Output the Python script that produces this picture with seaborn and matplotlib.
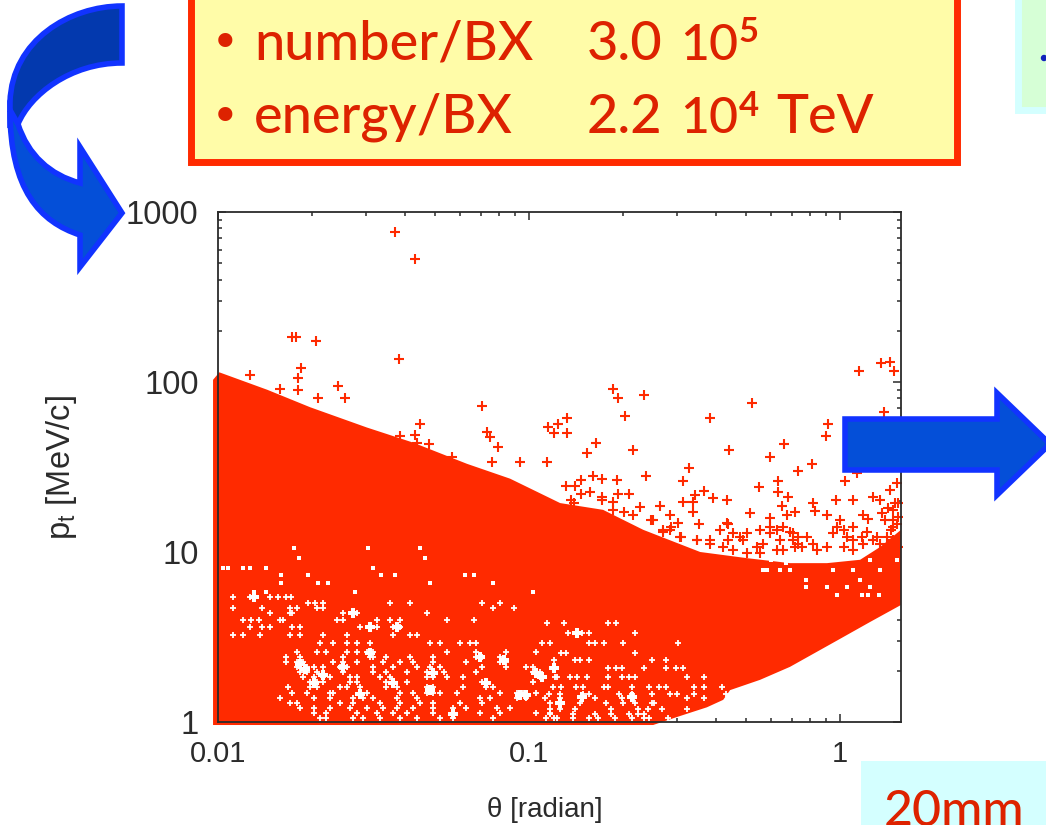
import matplotlib
matplotlib.use('Agg')
import matplotlib.pyplot as plt
import seaborn as sns
from matplotlib.patches import PathPatch, Rectangle, Polygon, Circle
from matplotlib.path import Path
from matplotlib.ticker import LogLocator, NullFormatter

# outline of the solid red band
upper_theta = [0.00964, 0.0101, 0.0144, 0.0198, 0.0301, 0.0424, 0.0632, 0.0869, 0.1259, 0.173, 0.233, 0.355, 0.502, 0.69, 0.908, 1.16, 1.345, 1.57]
upper_pt = [103, 114, 90, 71, 54, 44, 33, 27, 19.4, 17.7, 13.5, 10, 9.2, 8.6, 8.6, 9, 10.7, 13.5]
lower_theta = [1.57, 1.247, 0.986, 0.69, 0.553, 0.443, 0.421, 0.373, 0.299, 0.2506, 0.00964]
lower_pt = [4.88, 3.87, 3.04, 2.11, 1.77, 1.54, 1.35, 1.22, 1.07, 0.96, 0.96]

# single + points above the band
plus_theta = [0.0371, 0.043, 0.0173, 0.0178, 0.0207, 0.0382, 0.0185, 0.0181, 0.0181, 0.0127, 0.0158, 0.0243, 0.0256, 0.0209,
              0.0706, 0.0447, 0.043, 0.0436, 0.0385, 0.0477, 0.0733, 0.075, 0.0794, 0.076, 0.0935, 0.1143, 0.115, 0.1203, 0.124, 0.0565,
              0.1324, 0.1324, 0.186, 0.193, 0.234, 0.204, 0.164, 0.154, 0.216, 0.521, 0.382, 0.44, 0.661, 0.596, 0.813, 0.733,
              1.15, 1.355, 1.449, 1.49, 1.384, 0.914, 0.902, 1.135, 1.038, 0.327, 0.313, 0.238, 0.192, 0.16, 0.171, 0.147, 0.131, 0.141,
              0.147, 0.157, 0.193, 0.21, 0.171, 0.366, 0.342, 0.391, 0.313, 0.337, 0.337, 0.433, 0.55, 0.632, 0.632, 0.681, 0.971, 1.1, 1.276,
              0.264, 0.2275, 0.186, 0.352, 0.514, 0.651, 0.819, 0.716, 0.676, 0.83, 0.908, 0.596, 0.284, 0.301, 0.433, 1.0, 1.186, 1.23, 1.365,
              1.449, 1.524, 1.503, 1.426, 1.345,
              0.411, 0.437, 0.454, 0.477, 0.501, 0.489, 0.437, 0.553, 0.595, 0.625, 0.657, 0.567, 0.708, 0.734, 0.716, 0.952, 1.026, 1.104, 1.175, 1.279,
              0.906, 0.841, 1.104, 0.625, 0.54, 0.382, 0.346, 0.306, 0.27, 0.251, 0.284, 0.421, 1.026, 1.189, 1.412, 1.484, 1.412, 1.54,
              # crowded ones along the edge of the band
              0.1365, 0.1399, 0.171, 0.186, 0.2025, 0.2155, 0.2465, 0.269, 0.2865, 0.308, 0.3455, 0.382,
              0.595, 0.641, 0.689, 0.708, 0.752, 0.818, 0.975, 1.049, 1.104, 1.22, 1.31, 1.39, 1.484, 1.455, 1.52, 1.34, 1.484,
              1.54, 1.484, 1.54, 0.785, 0.734, 0.657, 0.553, 0.454, 0.501]
plus_pt = [762, 529, 184, 184, 174, 137, 121, 106, 90, 110, 91, 95, 80.5, 80.5,
           72, 57, 49, 44, 48, 43, 51, 47.5, 41.5, 34, 34, 34, 54, 50, 57, 36,
           61, 50, 91, 80.5, 84, 63, 44, 38, 40, 75, 61, 40, 43, 36, 33, 30,
           116, 129, 131, 116, 67, 57, 48, 29, 26, 31, 26, 28, 26.5, 28, 27, 26.5, 24.5, 24.5,
           22, 22.5, 22, 22, 21, 22.9, 21.6, 20.8, 19.7, 19.7, 17.2, 20.2, 24, 26, 22.5, 21, 20.2, 20.2, 21,
           18.6, 18.4, 19.7, 14.6, 17, 18.6, 19.3, 17.2, 16.5, 17.4, 16.5, 15.8, 16.5, 14.8, 14.8, 15.4, 16.5, 15.6, 17,
           23.2, 25.5, 19.3, 18.2, 20.2,
           13.5, 14.7, 12.9, 12.3, 12.9, 11.8, 11.8, 13.5, 14.1, 13.5, 14.1, 11.2, 12.9, 12.3, 10.7, 12.9, 13.5, 14.1, 12.3, 11.8,
           10.7, 10.3, 10.3, 10.3, 10.7, 11.8, 11.8, 12.3, 13.5, 15.4, 13.5, 10.7, 10.7, 11.2, 12.3, 14.1, 10.7, 10.7,
           20.2, 19.3, 20.2, 17.7, 17.3, 16.5, 15.4, 13.2, 14.1, 12.3, 11.8, 11.2,
           12.9, 11.8, 13.2, 11.8, 10.7, 11.2, 14.1, 12.3, 11.8, 13.2, 12.3, 15.4, 15.4, 13.5, 14.7, 11.2, 11.8,
           19.3, 17.7, 16, 12.3, 11.2, 10.3, 9.8, 10.3, 9.8]

# white gaps left between the points in the lower part, one list per row
hole_rows = [5.4, 5.0, 4.7, 4.4, 3.98, 3.6, 3.25, 2.93, 2.58, 2.41, 2.25, 2.1, 1.97, 1.84, 1.72, 1.61, 1.48, 1.38, 1.29, 1.21, 1.13, 1.06,
             3.8, 3.32, 2.9, 2.54, 2.32, 2.07, 1.85, 1.61, 1.47, 1.38, 1.29, 1.2, 1.12, 1.05]
hole_thetas = [
    [0.0112, 0.0127, 0.0131, 0.0147, 0.0156, 0.0166, 0.0172],
    [0.0195, 0.0205, 0.0218, 0.0357, 0.0415, 0.0708, 0.0807],
    [0.0112, 0.0138, 0.017, 0.0179, 0.0208, 0.0218, 0.0768, 0.0897],
    [0.0147, 0.017, 0.0173, 0.0253, 0.0272, 0.0279, 0.047],
    [0.012, 0.0128, 0.0135, 0.0158, 0.0162, 0.0241, 0.0253, 0.0324, 0.0357, 0.0385, 0.0543, 0.0663],
    [0.0127, 0.0139, 0.0147, 0.0173, 0.0184, 0.0286, 0.0308, 0.0324, 0.0366, 0.0385],
    [0.0112, 0.012, 0.0136, 0.017, 0.0184, 0.0218, 0.026, 0.0366, 0.0415, 0.0436],
    [0.0213, 0.0234, 0.026, 0.0279, 0.0308, 0.0481, 0.0518, 0.06, 0.0646, 0.0675],
    [0.0179, 0.0208, 0.0223, 0.026, 0.0279, 0.0301, 0.0316, 0.0543, 0.0675, 0.0846, 0.1054],
    [0.0166, 0.0184, 0.0253, 0.0308, 0.0316, 0.0346, 0.0415, 0.0492, 0.0675, 0.0708, 0.0807],
    [0.0166, 0.0179, 0.0188, 0.0234, 0.0253, 0.0279, 0.0339, 0.0385, 0.0425, 0.0492, 0.0629, 0.0807, 0.0846],
    [0.0179, 0.0193, 0.0203, 0.0218, 0.0247, 0.026, 0.0316, 0.0366, 0.0436, 0.0481, 0.0518, 0.0708, 0.0846, 0.098, 0.103],
    [0.0184, 0.0193, 0.0208, 0.0253, 0.0316, 0.0346, 0.0404, 0.047, 0.0492, 0.0531, 0.0675, 0.103, 0.1082],
    [0.0188, 0.0203, 0.0218, 0.0229, 0.0266, 0.0279, 0.0332, 0.0357, 0.047, 0.0492, 0.0543, 0.0615, 0.1082, 0.1226],
    [0.0198, 0.0208, 0.0218, 0.0266, 0.0279, 0.0346, 0.0366, 0.0404, 0.0708, 0.0729, 0.103],
    [0.0168, 0.0198, 0.0208, 0.0247, 0.026, 0.0286, 0.0346, 0.0376, 0.047, 0.0492, 0.0615, 0.0729, 0.0768, 0.1198],
    [0.0173, 0.0193, 0.0229, 0.0234, 0.0286, 0.0301, 0.0385, 0.0425, 0.047, 0.0492, 0.0518, 0.0585, 0.0807, 0.0912, 0.0957, 0.1054],
    [0.0158, 0.0203, 0.0229, 0.0272, 0.0293, 0.0316, 0.0376, 0.0436, 0.0696, 0.0749, 0.0912, 0.098],
    [0.017, 0.0179, 0.0247, 0.0272, 0.0332, 0.0385, 0.0447, 0.0492, 0.06, 0.0708, 0.117],
    [0.0184, 0.0203, 0.0229, 0.0266, 0.0301, 0.0339, 0.0376, 0.0425, 0.0492, 0.0571, 0.0629, 0.0788, 0.0869],
    [0.0203, 0.0223, 0.0279, 0.0324, 0.0366, 0.0404, 0.0492, 0.0571, 0.0696, 0.0807, 0.1054, 0.117],
    [0.0213, 0.0223, 0.0272, 0.0293, 0.0332, 0.0385, 0.0436, 0.0518, 0.0571, 0.0768, 0.1136, 0.1226],
    # right hand part of the gaps
    [0.1139, 0.1292, 0.1799, 0.19],
    [0.1337, 0.1422, 0.1476, 0.156, 0.2196],
    [0.11, 0.1167, 0.1555, 0.1632, 0.1737, 0.2, 0.301],
    [0.1268, 0.1315, 0.2186],
    [0.1202, 0.1407, 0.1457, 0.1555, 0.2477, 0.2765],
    [0.1202, 0.1799, 0.19, 0.1985, 0.2342, 0.2765, 0.2975, 0.3134],
    [0.1085, 0.1216, 0.1358, 0.1422, 0.1535, 0.1799, 0.1985, 0.2094, 0.2186, 0.3225, 0.3663],
    [0.127, 0.142, 0.149, 0.1737, 0.18, 0.214, 0.2436, 0.2614, 0.2765, 0.3395, 0.3663, 0.416],
    [0.116, 0.1257, 0.149, 0.156, 0.195, 0.2137, 0.2477, 0.283, 0.30, 0.3395, 0.43],
    [0.1129, 0.1257, 0.1476, 0.163, 0.1985, 0.217, 0.3225, 0.3663],
    [0.1257, 0.1457, 0.1772, 0.20, 0.2186, 0.2493, 0.2517],
    [0.1167, 0.1257, 0.1407, 0.1838, 0.2246, 0.241, 0.2681, 0.3225],
    [0.1167, 0.1382, 0.1632, 0.1838, 0.2094, 0.2246, 0.2343],
    [0.1202, 0.1382, 0.156, 0.1665, 0.1888, 0.2137, 0.2342, 0.2436, 0.2805],
]

# isolated small dots higher up in the band
dot_rows = [10.6, 9.2, 8.0, 7.3, 6.6, 5.8, 8.97, 7.84, 6.84, 6.25, 5.58]
dot_thetas = [
    [0.0175, 0.0304, 0.0447],
    [0.0182, 0.0464],
    [0.0104, 0.0108, 0.012, 0.0127, 0.0143, 0.0316],
    [0.016, 0.0195, 0.0335, 0.037, 0.0622, 0.0663],
    [0.016, 0.021, 0.0226, 0.0481, 0.0768],
    [0.0131, 0.0143, 0.0276, 0.103],
    [1.52, 0.7, 0.85, 0.6, 1.25],
    [0.567, 0.641, 0.581, 0.689, 0.952, 1.104, 1.34],
    [1.161, 0.776],
    [0.776, 0.906, 1.049, 1.25],
    [1.175, 1.23, 0.975, 1.33],
]

# the larger white patches
blob_theta = [0.0203, 0.0218, 0.0253, 0.0308, 0.0286, 0.0366, 0.0481, 0.0729, 0.0936, 0.098, 0.0571, 0.1054, 0.0492, 0.0696, 0.0828, 0.0184, 0.019,
              0.0376, 0.0308, 0.0272, 0.0131, 0.1257, 0.1476, 0.1422, 0.1202, 0.2137, 0.1097, 0.93, 0.67]
blob_pt = [1.69, 1.89, 2.11, 2.54, 1.47, 1.69, 1.54, 1.69, 1.44, 1.44, 1.12, 1.93, 1.93, 2.42, 2.32, 2.2, 2.05,
           3.64, 3.64, 4.4, 5.4, 1.29, 1.4, 3.32, 2.07, 1.4, 1.85, 9.3, 9.0]

theta_ticks = [0.01, 0.1, 1]
theta_labels = ['0.01', '0.1', '1']
pt_ticks = [1, 10, 100, 1000]
pt_labels = ['1', '10', '100', '1000']

RED = '#FF2A00'
TEXT_RED = '#DD2200'
GREY = '#2b2b2b'

sns.set_theme(style='ticks')
plt.rcParams['font.family'] = ['Liberation Sans', 'DejaVu Sans']

fig = plt.figure(figsize=(10.46, 8.25), dpi=100)
ax = fig.add_axes([218 / 1046, 103 / 825, 683 / 1046, 510 / 825])

ax.set_xscale('log')
ax.set_yscale('log')

# solid band
ax.fill(upper_theta + lower_theta, upper_pt + lower_pt, color=RED, linewidth=0, clip_on=False, zorder=1)

# white gaps
hole_x = []
hole_y = []
for pt, thetas in zip(hole_rows, hole_thetas):
    hole_x += thetas
    hole_y += [pt] * len(thetas)
dot_x = []
dot_y = []
for pt, thetas in zip(dot_rows, dot_thetas):
    dot_x += thetas
    dot_y += [pt] * len(thetas)
sns.scatterplot(x=hole_x, y=hole_y, ax=ax, marker='+', s=22, color='white', linewidth=1.3, zorder=1.1)
sns.scatterplot(x=dot_x, y=dot_y, ax=ax, marker='s', s=8, color='white', linewidth=0, zorder=1.1)
sns.scatterplot(x=blob_theta, y=blob_pt, ax=ax, marker='P', s=60, color='white', linewidth=0, zorder=1.1)

# the + points
sns.scatterplot(x=plus_theta, y=plus_pt, ax=ax, marker='+', s=50, color=RED, linewidth=1.5, clip_on=False, zorder=1.2)

ax.set_xlim(0.01, 1.57)
ax.set_ylim(1, 1000)
ax.set_xticks(theta_ticks)
ax.set_xticklabels(theta_labels)
ax.set_yticks(pt_ticks)
ax.set_yticklabels(pt_labels)
ax.xaxis.set_minor_locator(LogLocator(base=10, subs=range(2, 10)))
ax.yaxis.set_minor_locator(LogLocator(base=10, subs=range(2, 10)))
ax.xaxis.set_minor_formatter(NullFormatter())
ax.yaxis.set_minor_formatter(NullFormatter())
ax.tick_params(which='major', direction='in', length=6, width=1.1, top=True, right=True, color=GREY)
ax.tick_params(which='minor', direction='in', length=3, width=1.1, top=True, right=True, color=GREY)
ax.tick_params(axis='x', which='major', labelsize=21, labelcolor=GREY, pad=13)
ax.tick_params(axis='y', which='major', labelsize=23.5, labelcolor=GREY, pad=14)
for s in ax.spines.values():
    s.set_linewidth(1.3)
    s.set_color(GREY)
ax.set_xlabel('\u03b8 [radian]', fontsize=20, color=GREY, labelpad=21, x=0.479)
ax.set_ylabel(r'$\mathregular{p_t}$ [MeV/c]', fontsize=23.5, color=GREY, labelpad=33.5, y=0.5)

# slide decorations on top of the plot, in image pixels
over = fig.add_axes([0, 0, 1, 1], zorder=5)
over.set_xlim(0, 1046)
over.set_ylim(825, 0)
over.axis('off')

over.add_patch(Rectangle((191, -10), 766, 172, facecolor='#FFFCA8', edgecolor=RED, linewidth=5))
over.add_patch(Rectangle((1018, -10), 60, 120, facecolor='#D6FFD6', edgecolor='#D4FFFF', linewidth=5))
over.add_patch(Circle((1044, 58), 2.5, color='#1122BB'))
over.add_patch(Rectangle((861, 761), 200, 80, facecolor='#D4FFFF', edgecolor='none'))

font = dict(family='Lato', color=TEXT_RED, va='baseline', ha='left', fontsize=39, fontweight='medium')
bullet = dict(family='DejaVu Sans', color=TEXT_RED, va='baseline', ha='left', fontsize=35)
over.text(211, 58, '\u2022', **bullet)
over.text(254, 60, 'number/BX', **font)
over.text(587, 60, '3.0', **font)
over.text(680, 60, '10', **dict(font, fontsize=36))
over.text(739, 42, '5', **dict(font, fontsize=25, fontweight='bold'))
over.text(211, 132, '\u2022', **bullet)
over.text(254, 133, 'energy/BX', **font)
over.text(587, 133, '2.2', **font)
over.text(680, 133, '10', **dict(font, fontsize=36))
over.text(739, 116, '4', **dict(font, fontsize=25, fontweight='bold'))
over.text(776, 133, 'TeV', **font)
over.text(884, 826, '20mm', **dict(font, fontsize=36))

# arrows
EDGE = '#1133FF'
top_arrow = Path([(122, 6), (70, 6), (12, 40), (10, 102), (10, 125), (18, 124), (30, 95), (70, 63), (122, 63), (122, 6)],
                 [Path.MOVETO, Path.CURVE4, Path.CURVE4, Path.CURVE4, Path.LINETO, Path.LINETO,
                  Path.CURVE4, Path.CURVE4, Path.CURVE4, Path.CLOSEPOLY])
low_arrow = Path([(10, 110), (10, 190), (40, 222), (80, 235), (80, 267), (122, 213), (80, 147), (80, 183),
                  (50, 175), (28, 155), (18, 124), (10, 110)],
                 [Path.MOVETO, Path.CURVE4, Path.CURVE4, Path.CURVE4, Path.LINETO, Path.LINETO, Path.LINETO, Path.LINETO,
                  Path.CURVE4, Path.CURVE4, Path.CURVE4, Path.CLOSEPOLY])
over.add_patch(PathPatch(top_arrow, facecolor='#0339AE', edgecolor=EDGE, linewidth=4, joinstyle='miter'))
over.add_patch(PathPatch(low_arrow, facecolor='#044FD8', edgecolor=EDGE, linewidth=4, joinstyle='miter'))
over.add_patch(Polygon([(845, 419), (997, 419), (997, 393), (1050, 444), (997, 495), (997, 470), (845, 470)],
                       closed=True, facecolor='#044FD8', edgecolor=EDGE, linewidth=4, joinstyle='miter'))

fig.savefig('out.png', dpi=100)
